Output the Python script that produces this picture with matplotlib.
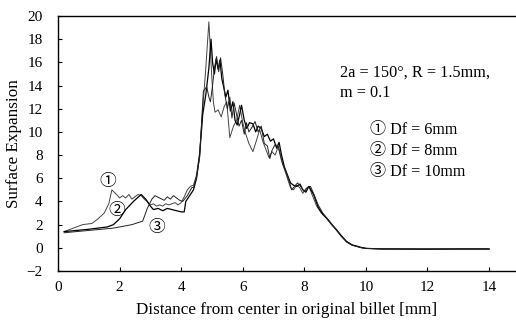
import matplotlib
matplotlib.use("Agg")
import matplotlib.pyplot as plt

# Df = 6mm
x1 = [0.2, 0.5, 0.8, 1.1, 1.3, 1.5, 1.65, 1.75, 1.9, 2.0, 2.1, 2.2, 2.3, 2.4, 2.5, 2.6, 2.7, 2.8,
      2.9, 3.0, 3.1, 3.2, 3.3, 3.4, 3.5, 3.6, 3.7, 3.8, 3.9, 4.0, 4.1, 4.2, 4.3, 4.4, 4.5, 4.6, 4.7,
      4.8, 4.9, 4.95, 5.0, 5.05, 5.1, 5.2, 5.3, 5.4, 5.48, 5.58, 5.7, 5.8, 5.9, 6.0, 6.1, 6.2, 6.33,
      6.45, 6.55, 6.65, 6.75, 6.85, 6.95, 7.05, 7.15, 7.25, 7.35, 7.45, 7.55, 7.65, 7.75, 7.85, 7.95,
      8.05, 8.15, 8.25, 8.4, 8.55, 8.7, 8.85, 9.05, 9.2, 9.37, 9.55, 9.7, 9.85, 10.0, 10.5, 11.0,
      12.0, 13.0, 14.0]
y1 = [1.4, 1.7, 2.0, 2.1, 2.5, 3.0, 3.8, 5.0, 4.6, 4.3, 4.5, 4.3, 4.6, 4.2, 4.4, 4.6, 4.5, 4.2,
      4.0, 3.7, 3.8, 3.6, 3.7, 3.6, 3.8, 3.7, 3.8, 3.9, 3.7, 3.9, 4.4, 5.0, 5.3, 5.4, 6.3, 8.2, 12.0,
      15.5, 19.5, 17.0, 14.5, 12.5, 11.7, 11.9, 11.3, 12.2, 12.6, 9.5, 10.5, 11.0, 12.3, 10.8, 9.8,
      9.0, 8.3, 9.3, 10.2, 9.2, 8.5, 7.8, 8.3, 8.0, 8.7, 7.6, 6.8, 6.0, 5.2, 5.0, 5.4, 5.2, 4.7,
      5.1, 5.3, 4.6, 3.6, 3.0, 2.6, 2.1, 1.5, 1.0, 0.55, 0.25, 0.12, 0.02, -0.05, -0.08, -0.1,
      -0.1, -0.1, -0.1]

# Df = 8mm
x2 = [0.2, 0.6, 1.0, 1.3, 1.6, 1.8, 2.0, 2.2, 2.45, 2.7, 2.85, 3.0, 3.1, 3.25, 3.4, 3.55, 3.7,
      3.85, 4.0, 4.1, 4.15, 4.25, 4.4, 4.5, 4.6, 4.7, 4.8, 4.9, 4.97, 5.02, 5.08, 5.14, 5.2, 5.26,
      5.32, 5.37, 5.45, 5.52, 5.6, 5.68, 5.75, 5.82, 5.9, 5.96, 6.05, 6.13, 6.22, 6.33, 6.42, 6.5,
      6.6, 6.7, 6.8, 6.9, 7.0, 7.1, 7.18, 7.26, 7.35, 7.45, 7.55, 7.65, 7.75, 7.86, 7.95, 8.05,
      8.15, 8.3, 8.45, 8.6, 8.75, 8.9, 9.05, 9.2, 9.37, 9.55, 9.7, 9.85, 10.0, 10.5, 11.0, 12.0,
      13.0, 14.0]
y2 = [1.4, 1.5, 1.6, 1.7, 1.8, 2.0, 2.5, 3.3, 4.0, 4.6, 4.2, 3.6, 3.3, 3.4, 3.2, 3.4, 3.3, 3.2,
      3.1, 3.1, 4.0, 4.4, 5.0, 6.0, 8.0, 11.5, 13.2, 15.5, 18.0, 16.0, 15.0, 16.3, 15.4, 16.2,
      14.6, 14.0, 13.0, 13.6, 11.8, 12.6, 11.0, 10.6, 11.5, 12.3, 11.0, 10.3, 10.8, 10.7, 10.0,
      10.5, 10.3, 9.6, 9.8, 9.2, 9.4, 8.6, 9.1, 8.0, 7.0, 6.3, 5.6, 5.4, 5.3, 5.5, 5.0, 4.8, 5.3,
      4.6, 3.5, 2.9, 2.5, 2.0, 1.55, 1.05, 0.55, 0.25, 0.15, 0.03, -0.05, -0.1, -0.1, -0.12,
      -0.1, -0.1]

# Df = 10mm
x3 = [0.2, 0.6, 1.0, 1.4, 1.8, 2.1, 2.4, 2.75, 2.9, 3.05, 3.15, 3.3, 3.45, 3.55, 3.65, 3.75,
      3.85, 3.95, 4.05, 4.2, 4.35, 4.4, 4.5, 4.6, 4.72, 4.83, 4.9, 4.95, 5.02, 5.08, 5.15, 5.22,
      5.28, 5.35, 5.42, 5.5, 5.58, 5.65, 5.72, 5.8, 5.88, 5.96, 6.05, 6.12, 6.2, 6.3, 6.4, 6.5,
      6.6, 6.7, 6.8, 6.88, 6.95, 7.05, 7.15, 7.22, 7.3, 7.4, 7.5, 7.59, 7.68, 7.78, 7.88, 8.0,
      8.1, 8.2, 8.3, 8.45, 8.6, 8.75, 8.9, 9.05, 9.2, 9.37, 9.55, 9.7, 9.85, 10.0, 10.5, 11.0,
      12.0, 13.0, 14.0]
y3 = [1.3, 1.4, 1.5, 1.6, 1.7, 1.85, 2.0, 2.3, 3.4, 4.2, 4.5, 4.3, 4.1, 4.4, 4.2, 4.5, 4.3,
      4.1, 4.0, 4.5, 5.2, 5.2, 6.1, 7.8, 13.5, 13.9, 13.0, 12.6, 14.0, 15.5, 16.5, 15.2, 16.4,
      15.0, 13.2, 12.0, 13.0, 11.2, 12.5, 11.5, 10.5, 11.0, 9.8, 10.8, 10.0, 10.4, 10.9, 10.0,
      10.5, 9.0, 8.8, 7.7, 8.4, 8.9, 8.8, 8.1, 7.2, 6.6, 5.8, 5.0, 5.3, 5.6, 5.3, 4.85, 5.2, 5.3,
      4.7, 3.7, 3.0, 2.5, 2.0, 1.5, 1.0, 0.5, 0.22, 0.12, 0.0, -0.05, -0.1, -0.1, -0.1, -0.1,
      -0.1]

xticks = [0, 2, 4, 6, 8, 10, 12, 14]
yticks = [-2, 0, 2, 4, 6, 8, 10, 12, 14, 16, 18, 20]
legend_lines = ["\u2460 Df = 6mm", "\u2461 Df = 8mm", "\u2462 Df = 10mm"]

plt.rcParams['font.family'] = ['Liberation Serif', 'Noto Sans CJK JP', 'DejaVu Sans']

fig = plt.figure(figsize=(5.16, 3.24), dpi=100)
ax = fig.add_axes([0.1124, 0.1636, 0.8876, 0.787])

ax.plot(x1, y1, color="#444444", lw=0.7)
ax.plot(x2, y2, color="black", lw=0.9)
ax.plot(x3, y3, color="#222222", lw=0.7)

ax.set_xlim(0, 14.875)
ax.set_ylim(-2, 20)
ax.set_xticks(xticks)
ax.set_yticks(yticks)
ax.tick_params(direction="in", length=3, labelsize=11, width=0.8)
ax.tick_params(axis="y", pad=11)
ax.tick_params(axis="x", pad=7)
ax.spines["right"].set_visible(False)
for s in ["top", "bottom", "left"]:
    ax.spines[s].set_linewidth(1.0)

ax.set_xlabel("Distance from center in original billet [mm]", fontsize=12.3, labelpad=6)
ax.set_ylabel("Surface Expansion", fontsize=12.3, labelpad=3)

ax.text(9.16, 15.1, "2a = 150\u00b0, R = 1.5mm,", fontsize=11.7, va="center")
ax.text(9.16, 13.4, "m = 0.1", fontsize=11.7, va="center")
for i, s in enumerate(legend_lines):
    ax.text(10.13, 10.16 - 1.81 * i, s, fontsize=11.6, va="center")

ax.text(1.6, 5.7, "\u2460", fontsize=12, ha="center", va="center")
ax.text(1.9, 3.2, "\u2461", fontsize=12, ha="center", va="center")
ax.text(3.2, 1.7, "\u2462", fontsize=12, ha="center", va="center")

fig.savefig("out.png", dpi=100)
